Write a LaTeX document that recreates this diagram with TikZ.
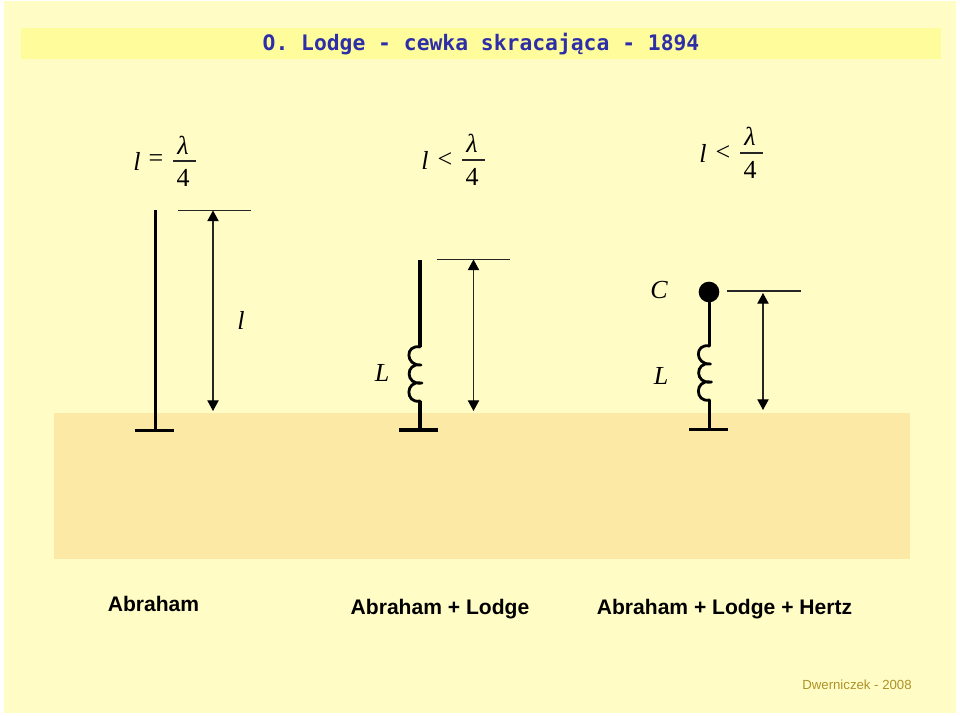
\documentclass[tikz,border=0pt]{standalone}
\usepackage{fontspec}
\setmainfont{Liberation Sans}
\newfontfamily\serifmath{Liberation Serif}
\newfontfamily\monot{DejaVu Sans Mono}
\usetikzlibrary{arrows.meta}
\definecolor{pagebg}{HTML}{FFFCC6}
\definecolor{band}{HTML}{FFFD9B}
\definecolor{ground}{HTML}{FCE9A6}
\definecolor{titleblue}{HTML}{2E2EA8}
\definecolor{credit}{HTML}{AE9228}
\tikzset{
  x=0.75pt,y=-0.75pt,
  wire/.style={line width=2.5pt,black},
  thin rule/.style={line width=0.8pt,black!85},
  dim/.style={line width=0.8pt,black!85,{Triangle[length=8pt,width=8.5pt,black]}-{Triangle[length=8pt,width=8.5pt,black]}},
  mathtxt/.style={font=\serifmath\itshape\fontsize{19.5}{22}\selectfont,inner sep=0pt,black},
  numtxt/.style={font=\serifmath\fontsize{19.5}{22}\selectfont,inner sep=0pt,black},
  caption/.style={font=\bfseries\fontsize{15.8}{18}\selectfont,inner sep=0pt,black},
}
\newcommand{\lodgecoil}[2]{% x, top y
  \draw[line width=2.1pt,black,line cap=round] (#1,#2+1) .. controls (#1-15,#2-2) and (#1-15,#2+20) .. (#1+1,#2+19)
     (#1+1,#2+19) .. controls (#1-15,#2+16) and (#1-15,#2+40) .. (#1+2,#2+37)
     (#1+1,#2+37) .. controls (#1-15,#2+34) and (#1-15,#2+58) .. (#1,#2+55);
}
\begin{document}
\begin{tikzpicture}
\useasboundingbox (0,0) rectangle (960,716);
\fill[white] (0,0) rectangle (960,716);
\fill[pagebg] (4,1) rectangle (956,713);
\fill[band] (21,28) rectangle (941,59);
\fill[ground] (54,413) rectangle (910,559);
\node[font=\monot\bfseries\fontsize{16}{20}\selectfont,text=titleblue,inner sep=0pt] (title) at (481,44.5) {O. Lodge - cewka skracająca - 1894};

% formulae
\node[mathtxt] (l1) at (137,161) {l};
\node[numtxt] (eq1) at (156,161) {=};
\node[mathtxt] (lam1) at (183,145) {λ};
\node[numtxt] (four1) at (183,178) {4};
\coordinate (b1a) at (173,161); \coordinate (b1b) at (196,161);
\draw[thin rule] (b1a) -- (b1b);

\node[mathtxt] (l2) at (425,160) {l};
\node[numtxt] (eq2) at (445,160) {<};
\node[mathtxt] (lam2) at (472,143) {λ};
\node[numtxt] (four2) at (472,177) {4};
\coordinate (b2a) at (462,160); \coordinate (b2b) at (485,160);
\draw[thin rule] (b2a) -- (b2b);

\node[mathtxt] (l3) at (703,153) {l};
\node[numtxt] (eq3) at (723,153) {<};
\node[mathtxt] (lam3) at (750,136) {λ};
\node[numtxt] (four3) at (750,170) {4};
\coordinate (b3a) at (740,153); \coordinate (b3b) at (763,153);
\draw[thin rule] (b3a) -- (b3b);

% antenna 1
\coordinate (a1top) at (155.5,210); \coordinate (a1bot) at (155.5,430);
\coordinate (g1a) at (135,430.5); \coordinate (g1b) at (174,430.5);
\draw[wire] (a1top) -- (a1bot);
\draw[wire] (g1a) -- (g1b);
\coordinate (r1a) at (178,210.5); \coordinate (r1b) at (251,210.5);
\draw[thin rule] (r1a) -- (r1b);
\coordinate (d1a) at (213,210.5); \coordinate (d1b) at (213,411);
\draw[dim] (d1a) -- (d1b);
\node[mathtxt] (llab) at (241,320) {l};

% antenna 2
\coordinate (a2top) at (420,260); \coordinate (a2m) at (420,347);
\coordinate (a2n) at (420,401); \coordinate (a2bot) at (420,430);
\draw[wire] (a2top) -- (a2m);
\lodgecoil{420}{346}
\draw[wire] (a2n) -- (a2bot);
\coordinate (g2a) at (399,430); \coordinate (g2b) at (438,430);
\draw[wire] (g2a) -- (g2b);
\coordinate (r2a) at (437,259.5); \coordinate (r2b) at (510,259.5);
\draw[thin rule] (r2a) -- (r2b);
\coordinate (d2a) at (473.5,259.5); \coordinate (d2b) at (473.5,411);
\draw[dim] (d2a) -- (d2b);
\node[mathtxt] (L2) at (382,373) {L};

% antenna 3
\node[circle,fill=black,minimum size=15.5pt,inner sep=0pt] (ball) at (709,292) {};
\coordinate (a3top) at (709.5,292); \coordinate (a3m) at (709.5,346); \coordinate (a3n) at (709.5,400); \coordinate (a3bot) at (709.5,429);
\draw[wire] (a3top) -- (a3m);
\lodgecoil{709.5}{345}
\draw[wire] (a3n) -- (a3bot);
\coordinate (g3a) at (689,429.5); \coordinate (g3b) at (728,429.5);
\draw[wire] (g3a) -- (g3b);
\coordinate (r3a) at (727,291); \coordinate (r3b) at (801,291);
\draw[thin rule] (r3a) -- (r3b);
\coordinate (d3a) at (763,293); \coordinate (d3b) at (763,410);
\draw[dim] (d3a) -- (d3b);
\node[mathtxt] (C3) at (659,290) {C};
\node[mathtxt] (L3) at (661,376) {L};

% captions
\node[caption] (cap1) at (153.5,604) {Abraham};
\node[caption] (cap2) at (440,609) {Abraham + Lodge};
\node[caption] (cap3) at (724.5,609) {Abraham + Lodge + Hertz};
\node[font=\fontsize{9.9}{12}\selectfont,text=credit,inner sep=0pt] (cred) at (857,685) {Dwerniczek - 2008};
\end{tikzpicture}
\end{document}
